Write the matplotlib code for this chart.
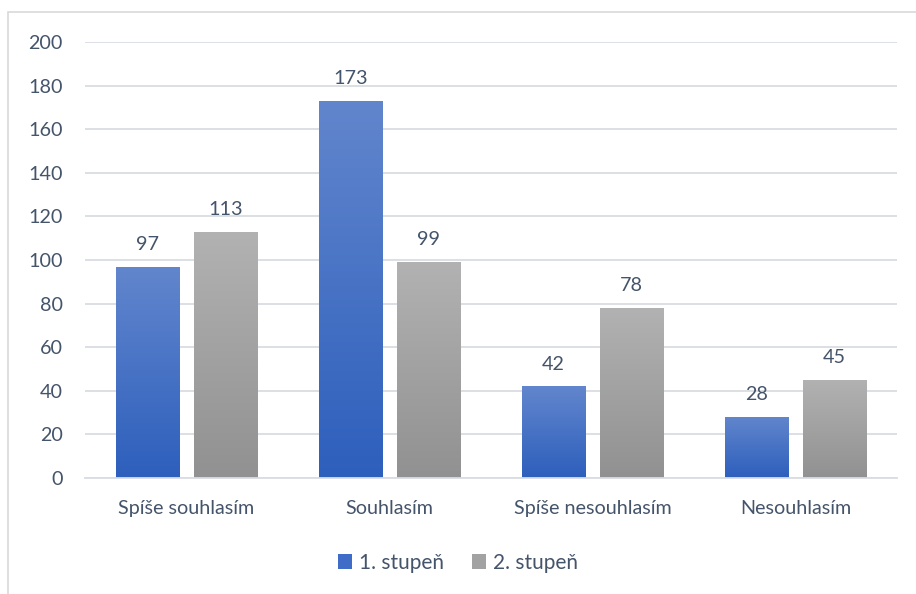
import matplotlib
matplotlib.use("Agg")
import matplotlib.pyplot as plt
import numpy as np
from matplotlib.colors import LinearSegmentedColormap
from matplotlib.patches import Rectangle, Patch

plt.rcParams["font.family"] = ["Lato", "DejaVu Sans"]

categories = ["Spíše souhlasím", "Souhlasím", "Spíše nesouhlasím", "Nesouhlasím"]
series_names = ["1. stupeň", "2. stupeň"]
stupen1 = [97, 173, 42, 28]
stupen2 = [113, 99, 78, 45]

TEXT = "#44546a"
GRID = "#d9dde3"
FS = 14.2
blue_cmap = LinearSegmentedColormap.from_list("b", ["#2d5fbc", "#6286cd"])
gray_cmap = LinearSegmentedColormap.from_list("g", ["#919191", "#b2b2b2"])

fig = plt.figure(figsize=(9.16, 5.94), dpi=100)
# chart frame like the office export
fig.patches.append(Rectangle((8 / 916, -0.1), 1.2, 1 - 12 / 594 + 0.1,
                             transform=fig.transFigure, fill=False,
                             edgecolor="#d9d9d9", linewidth=1.2))
ax = fig.add_axes([85 / 916, 1 - 478 / 594, 812 / 916, 436 / 594])

x = np.arange(len(categories))
w = 0.315
off = 0.192
grad = np.linspace(0, 1, 256).reshape(-1, 1)


def gradient_bars(pos, vals, cmap, label):
    bars = ax.bar(pos, vals, w, color="none", edgecolor="none", label=label, zorder=2)
    for b in bars:
        im = ax.imshow(grad, cmap=cmap, origin="lower", aspect="auto",
                       extent=[b.get_x(), b.get_x() + b.get_width(), 0, b.get_height()],
                       zorder=2)
        im.set_clip_path(b)
        ax.annotate(str(int(b.get_height())), (b.get_x() + b.get_width() / 2, b.get_height()),
                    xytext=(0, 10), textcoords="offset points", ha="center", va="bottom",
                    fontsize=FS, color=TEXT)
    return bars


gradient_bars(x - off, stupen1, blue_cmap, series_names[0])
gradient_bars(x + off, stupen2, gray_cmap, series_names[1])

ax.set_xlim(-0.5, len(categories) - 0.5)
ax.set_ylim(0, 200)
ax.set_yticks(range(0, 201, 20))
ax.set_xticks(x)
ax.set_xticklabels(categories)
ax.tick_params(axis="both", length=0, labelsize=FS, labelcolor=TEXT)
ax.tick_params(axis="x", pad=16)
ax.tick_params(axis="y", pad=16)
ax.yaxis.grid(True, color=GRID, linewidth=1.3)
ax.set_axisbelow(True)
for s in ["top", "right", "left"]:
    ax.spines[s].set_visible(False)
ax.spines["bottom"].set_color(GRID)
ax.spines["bottom"].set_linewidth(1.3)

handles = [Patch(facecolor="#3f6cc6"), Patch(facecolor="#a2a2a2")]
fig.legend(handles, series_names, loc="center", bbox_to_anchor=(0.5, 1 - 563 / 594),
           ncol=2, frameon=False, fontsize=15, labelcolor=TEXT,
           handlelength=0.7, handleheight=0.7, handletextpad=0.35, columnspacing=1.3)

fig.savefig("out.png", dpi=100)
